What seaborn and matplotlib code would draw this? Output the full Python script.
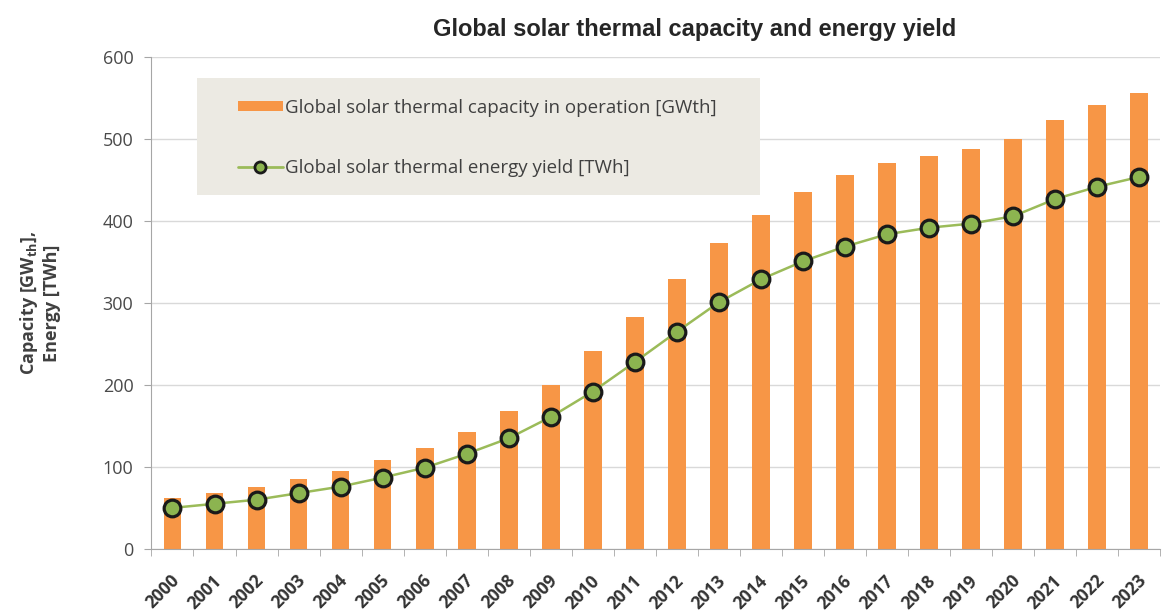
#!/usr/bin/env python3

import pandas as pd
import seaborn as sns
import matplotlib.pyplot as plt
from matplotlib.lines import Line2D
from matplotlib.patches import Patch, Rectangle
from matplotlib.transforms import ScaledTranslation

YEARS = [str(y) for y in range(2000, 2024)]
CAPACITY = [62, 68, 75, 85, 95, 108, 123, 143, 168, 200, 241, 283,
            329, 373, 408, 435, 456, 471, 480, 488, 500, 523, 542, 557]
ENERGY = [50, 55, 60, 68, 76, 87, 99, 116, 135, 161, 192, 228,
          265, 301, 329, 351, 369, 384, 392, 397, 406, 427, 442, 454]

BAR_COLOR = "#F79646"
LINE_COLOR = "#9BBB59"
MARKER_FACE = "#8CB450"
TEXT_COLOR = "#404040"


def main():
    df = pd.DataFrame({"year": YEARS, "capacity": CAPACITY, "energy": ENERGY})

    sns.set_style("white")
    plt.rcParams["font.family"] = ["Open Sans", "DejaVu Sans"]

    fig = plt.figure(figsize=(11.65, 6.16), dpi=100)
    ax = fig.add_axes([0.130, 0.109, 0.866, 0.798])

    sns.barplot(ax=ax, data=df, x="year", y="capacity", color=BAR_COLOR,
                saturation=1, width=0.42, edgecolor="none")
    sns.pointplot(ax=ax, data=df, x="year", y="energy", color=LINE_COLOR,
                  markers="o", markersize=12, linewidth=1.8,
                  markerfacecolor=MARKER_FACE, markeredgecolor="#1A1A1A",
                  markeredgewidth=2.3)

    ax.set_ylim(0, 600)
    ax.set_xlim(-0.5, len(YEARS) - 0.5)
    ax.set_yticks(range(0, 601, 100))
    ax.yaxis.grid(True, color="#D9D9D9", linewidth=1)
    ax.set_axisbelow(True)
    for side in ["top", "right"]:
        ax.spines[side].set_visible(False)
    for side in ["left", "bottom"]:
        ax.spines[side].set_color("#A6A6A6")

    # Excel-style ticks between categories
    ax.set_xticks([i - 0.5 for i in range(len(YEARS) + 1)], minor=True)
    ax.tick_params(axis="x", which="minor", length=5, color="#A6A6A6",
                   direction="out", bottom=True)
    ax.tick_params(axis="x", which="major", length=0, pad=21)
    ax.tick_params(axis="y", length=5, color="#A6A6A6", direction="out",
                   left=True, labelsize=13, labelcolor="#4A4A4A", pad=8)
    shift = ScaledTranslation(4 / 100, 0, fig.dpi_scale_trans)
    for lab in ax.get_xticklabels():
        lab.set_rotation(45)
        lab.set_ha("right")
        lab.set_va("center")
        lab.set_rotation_mode("anchor")
        lab.set_fontsize(12.5)
        lab.set_fontweight("bold")
        lab.set_color("#333333")
        lab.set_transform(lab.get_transform() + shift)

    ax.set_xlabel("")
    ax.set_ylabel("Capacity [GW$_{\\mathregular{th}}$],\nEnergy [TWh]",
                  fontsize=13, fontweight="bold", color=TEXT_COLOR,
                  linespacing=1.2)
    ax.yaxis.set_label_coords(-0.09, 0.5)

    # legend background box
    ax.add_patch(Rectangle((0.0456, 0.7195), 0.5575, 0.2378,
                           transform=ax.transAxes, facecolor="#ECEAE3",
                           edgecolor="none", zorder=3))

    handles = [
        Patch(facecolor=BAR_COLOR, edgecolor="none"),
        Line2D([], [], color=LINE_COLOR, linewidth=2, marker="o",
               markersize=8, markerfacecolor=MARKER_FACE,
               markeredgecolor="#1A1A1A", markeredgewidth=2),
    ]
    labels = [
        "Global solar thermal capacity in operation [GWth]",
        "Global solar thermal energy yield [TWh]",
    ]
    leg = ax.legend(handles, labels, loc="center left",
                    bbox_to_anchor=(0.0853, 0.8354), frameon=False,
                    fontsize=13.5, labelspacing=2.25, borderpad=0,
                    handlelength=2.4, handleheight=0.45, handletextpad=0.15,
                    borderaxespad=0)
    leg.set_zorder(4)
    for t in leg.get_texts():
        t.set_color(TEXT_COLOR)

    fig.text(0.596, 0.9416, "Global solar thermal capacity and energy yield",
             ha="center", va="baseline", fontsize=17, fontweight="bold",
             family=["Liberation Sans", "DejaVu Sans"])

    fig.savefig("out.png", dpi=100)


if __name__ == "__main__":
    main()
